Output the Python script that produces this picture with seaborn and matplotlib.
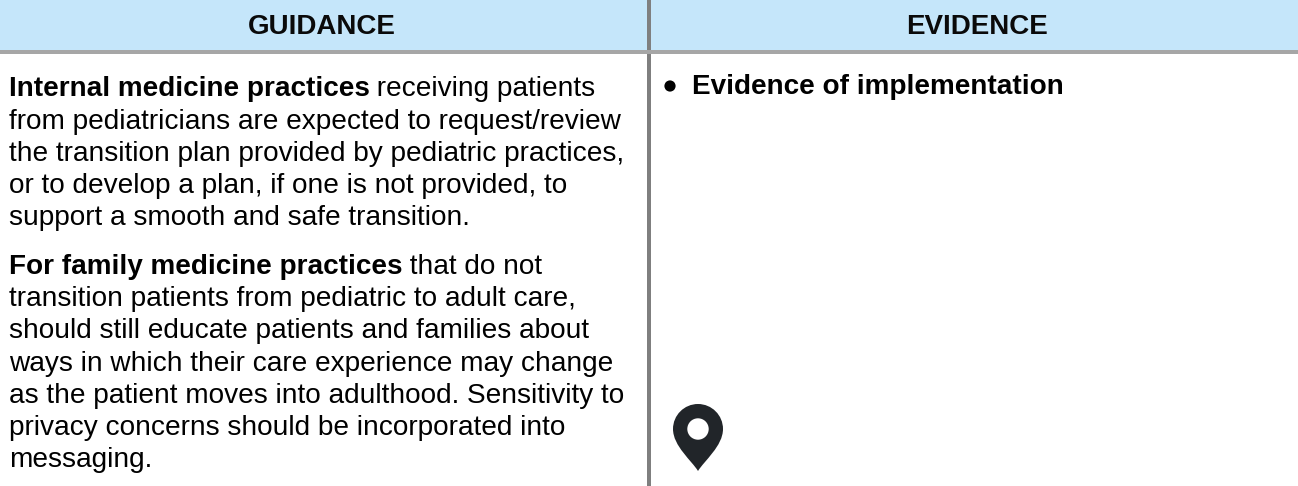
import matplotlib
matplotlib.use('Agg')
import matplotlib.pyplot as plt
from matplotlib.path import Path
from matplotlib.patches import PathPatch, Circle
import seaborn as sns

headers = ['GUIDANCE', 'EVIDENCE']

# each line is (bold part, regular part)
para_1 = [
    ('Internal medicine practices', ' receiving patients'),
    ('', 'from pediatricians are expected to request/review'),
    ('', 'the transition plan provided by pediatric practices,'),
    ('', 'or to develop a plan, if one is not provided, to'),
    ('', 'support a smooth and safe transition.'),
]
para_2 = [
    ('For family medicine practices', ' that do not'),
    ('', 'transition patients from pediatric to adult care,'),
    ('', 'should still educate patients and families about'),
    ('', 'ways in which their care experience may change'),
    ('', 'as the patient moves into adulthood. Sensitivity to'),
    ('', 'privacy concerns should be incorporated into'),
    ('', 'messaging.'),
]
evidence = 'Evidence of implementation'

W, H = 1298, 486
sns.set_theme(style='white')
plt.rcParams['font.family'] = ['Liberation Sans', 'DejaVu Sans']

fig = plt.figure(figsize=(W / 100, H / 100), dpi=100)
ax = fig.add_axes([0, 0, 1, 1])
ax.set_xlim(0, W)
ax.set_ylim(H, 0)
ax.axis('off')

# header band and rules
ax.axhspan(0, 50, color='#c5e6fa', lw=0)
ax.axvspan(647, 651, color='#7f7f7f', lw=0)
ax.axhspan(50, 54, color='#a6a6a6', lw=0)

ax.text(248, 33.5, headers[0], fontsize=20, fontweight='bold', color='#0a0a0a', va='baseline')
ax.text(906, 33.5, headers[1], fontsize=20, fontweight='bold', color='#0a0a0a', va='baseline')

fs = 20.2
fs_bold = 20.05
renderer = fig.canvas.get_renderer()


def draw_lines(lines, y0, step):
    for n, (b, r) in enumerate(lines):
        y = y0 + n * step
        x = 8.6
        if b:
            t = ax.text(x, y, b, fontsize=fs_bold, fontweight='bold', color='black', va='baseline')
            x = ax.transData.inverted().transform(t.get_window_extent(renderer))[1][0]
        ax.text(x, y, r, fontsize=fs, color='black', va='baseline')


draw_lines(para_1, 96.3, 32.2)
draw_lines(para_2, 274, 32.2)

# bullet
ax.add_patch(Circle((670, 86), 5.6, color='black', lw=0))
ax.text(692, 94.5, evidence, fontsize=fs_bold, fontweight='bold', color='black', va='baseline')

# map pin icon
cx, cy, top, bot, r = 698, 429, 404, 471, 25
k = 0.5523 * r
pin = Path(
    [(cx, bot), (cx - 6, 461), (cx - r, 446), (cx - r, cy),
     (cx - r, cy - k), (cx - k, top), (cx, top),
     (cx + k, top), (cx + r, cy - k), (cx + r, cy),
     (cx + r, 446), (cx + 6, 461), (cx, bot), (cx, bot)],
    [Path.MOVETO, Path.CURVE4, Path.CURVE4, Path.CURVE4,
     Path.CURVE4, Path.CURVE4, Path.CURVE4,
     Path.CURVE4, Path.CURVE4, Path.CURVE4,
     Path.CURVE4, Path.CURVE4, Path.CURVE4, Path.CLOSEPOLY])
ax.add_patch(PathPatch(pin, fc='#212529', ec='none'))
ax.add_patch(Circle((cx, cy), 10.7, color='white', lw=0))

fig.savefig('out.png', dpi=100)
